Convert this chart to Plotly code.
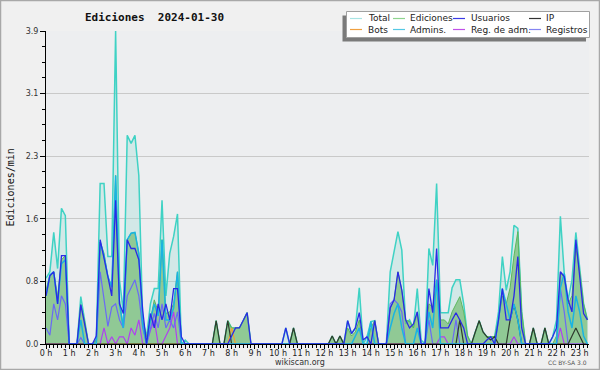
import plotly.graph_objects as go

# ---------------- data (edits per minute, 10-minute bins, 00:00 .. 23:20) ----------------
BIN_MINUTES = 10
TOTAL = [
    0.82, 0.90, 1.39, 0.94, 1.69, 1.60,   # 0h
    0, 0, 0, 0.59, 0.30, 0,               # 1h
    0, 0.05, 2.00, 2.00, 1.09, 1.09,      # 2h
    3.90, 0.80, 0.40, 2.60, 2.50, 2.60,   # 3h
    2.10, 0.30, 0.09, 0.50, 0.69, 0.69,   # 4h
    1.79, 0.60, 1.13, 1.34, 1.62, 0,      # 5h
    0.05, 0, 0, 0, 0, 0,                  # 6h
    0, 0, 0.29, 0, 0, 0.29,               # 7h
    0.20, 0.20, 0.20, 0.29, 0.39, 0,      # 8h
    0, 0, 0, 0, 0, 0,                     # 9h
    0, 0, 0.20, 0, 0.20, 0,               # 10h
    0, 0, 0, 0, 0, 0,                     # 11h
    0, 0, 0.10, 0, 0.10, 0,               # 12h
    0.29, 0.13, 0.20, 0.70, 0, 0.09,      # 13h
    0.28, 0.29, 0, 0, 0, 0.90,            # 14h
    1.17, 1.40, 1.17, 0.25, 0.30, 0.20,   # 15h
    0.69, 0.05, 0, 1.19, 0.98, 2.00,      # 16h
    0.39, 0.39, 0.39, 0.70, 0.80, 0.80,   # 17h
    0.50, 0.10, 0, 0.15, 0.29, 0.15,      # 18h
    0.09, 0.09, 0.09, 0.40, 1.09, 0.67,   # 19h
    0.90, 1.48, 1.44, 0.40, 0, 0,         # 20h
    0.20, 0, 0, 0.20, 0, 0.09,            # 21h
    0.30, 1.59, 0.88, 0.55, 0.80, 1.39,   # 22h
    0.90, 0.50, 0.30,                     # 23h
]
EDICIONES = [
    0.67, 0.86, 0.90, 0.59, 1.05, 1.10,
    0, 0, 0, 0.49, 0.28, 0,
    0, 0.05, 1.27, 1.13, 0.84, 0.71,
    2.10, 0.55, 0.20, 1.30, 1.38, 1.39,
    1.13, 0.30, 0.09, 0.30, 0.55, 0.40,
    1.30, 0.38, 0.40, 0.50, 0.90, 0,
    0, 0, 0, 0, 0, 0,
    0, 0, 0.29, 0, 0, 0.29,
    0.20, 0.20, 0.20, 0.29, 0.39, 0,
    0, 0, 0, 0, 0, 0,
    0, 0, 0, 0, 0.20, 0,
    0, 0, 0, 0, 0, 0,
    0, 0, 0.10, 0, 0.10, 0,
    0.20, 0.10, 0.15, 0.30, 0, 0,
    0.20, 0.29, 0, 0, 0, 0.45,
    0.55, 0.90, 0.67, 0.30, 0.28, 0.20,
    0.40, 0, 0, 0.50, 0.46, 0.80,
    0.30, 0.30, 0.25, 0.40, 0.50, 0.59,
    0.40, 0.10, 0, 0.15, 0.29, 0.15,
    0.09, 0.09, 0.09, 0.30, 0.60, 0.50,
    0.70, 1.10, 1.40, 0.40, 0, 0,
    0.20, 0, 0, 0.20, 0, 0,
    0.10, 0.88, 0.84, 0.50, 0.60, 1.20,
    0.90, 0.50, 0.30,
]
USUARIOS = [
    0.60, 0.85, 0.90, 0.50, 1.10, 1.10,
    0, 0, 0, 0.49, 0.25, 0,
    0, 0.10, 1.30, 1.09, 0.84, 0.60,
    1.79, 0.50, 0.38, 1.30, 1.19, 1.19,
    1.05, 0.42, 0, 0.38, 0.20, 0.50,
    0.30, 0.50, 0.30, 0.69, 0.69, 0.09,
    0, 0, 0, 0, 0, 0,
    0, 0, 0, 0, 0, 0,
    0.10, 0.20, 0.20, 0.29, 0.39, 0,
    0, 0, 0, 0, 0, 0,
    0, 0, 0.20, 0, 0, 0,
    0, 0, 0, 0, 0, 0,
    0, 0, 0, 0, 0, 0,
    0.29, 0.13, 0.20, 0.39, 0.05, 0.09,
    0, 0.29, 0, 0, 0, 0.45,
    0.55, 0.90, 0.67, 0.30, 0.20, 0.25,
    0.40, 0, 0, 0.69, 0.39, 1.19,
    0.20, 0.20, 0.20, 0.30, 0.39, 0.30,
    0.20, 0, 0, 0, 0, 0,
    0.05, 0.09, 0, 0.30, 0.69, 0.30,
    0.30, 0.60, 1.09, 0.20, 0, 0,
    0, 0, 0, 0, 0, 0.09,
    0.20, 0.90, 0.84, 0.55, 0.40, 1.30,
    0.80, 0.38, 0.30,
]
IP = [
    0, 0, 0, 0, 0, 0,
    0, 0, 0, 0, 0, 0,
    0, 0, 0, 0, 0, 0,
    0, 0, 0, 0, 0, 0,
    0, 0, 0, 0, 0, 0,
    0, 0, 0, 0, 0, 0,
    0, 0, 0, 0, 0, 0,
    0, 0, 0.29, 0, 0, 0.29,
    0, 0, 0, 0, 0, 0,
    0, 0, 0, 0, 0, 0,
    0, 0, 0, 0, 0.20, 0,
    0, 0, 0, 0, 0, 0,
    0, 0, 0.10, 0, 0.10, 0,
    0, 0, 0, 0, 0, 0,
    0, 0, 0, 0, 0, 0,
    0, 0, 0, 0, 0, 0,
    0, 0, 0, 0, 0, 0,
    0, 0, 0, 0, 0, 0.30,
    0, 0, 0, 0.15, 0.29, 0.15,
    0.09, 0.05, 0.09, 0, 0, 0,
    0.30, 0.49, 0.30, 0, 0, 0,
    0.20, 0, 0, 0.20, 0, 0,
    0, 0, 0, 0, 0.10, 0.20,
    0.10, 0, 0,
]
BOTS = [
    0, 0, 0, 0, 0, 0,
    0, 0, 0, 0, 0, 0,
    0, 0, 0, 0, 0, 0,
    0, 0, 0, 0, 0, 0,
    0, 0, 0, 0, 0, 0,
    0, 0, 0, 0, 0, 0,
    0, 0, 0, 0, 0, 0,
    0, 0, 0, 0, 0, 0,
    0.20, 0, 0, 0, 0, 0,
    0, 0, 0, 0, 0, 0,
    0, 0, 0, 0, 0, 0,
    0, 0, 0, 0, 0, 0,
    0, 0, 0, 0, 0, 0,
    0, 0, 0, 0, 0, 0,
    0, 0, 0, 0, 0, 0,
    0, 0, 0, 0, 0, 0,
    0, 0, 0, 0, 0, 0,
    0, 0, 0, 0, 0, 0,
    0, 0, 0, 0, 0, 0,
    0, 0, 0, 0, 0, 0,
    0, 0, 0, 0, 0, 0,
    0, 0, 0, 0, 0, 0,
    0, 0, 0, 0, 0, 0,
    0, 0, 0,
]
ADMINS = [
    0.60, 0.86, 0.90, 0.50, 1.00, 1.05,
    0, 0, 0, 0.30, 0, 0,
    0, 0, 1.27, 1.10, 0.84, 0.71,
    2.10, 0.50, 0.20, 1.30, 1.38, 1.39,
    1.13, 0.25, 0, 0.30, 0.50, 0.35,
    1.30, 0.30, 0.30, 0.45, 0.90, 0,
    0, 0, 0, 0, 0, 0,
    0, 0, 0, 0, 0, 0,
    0, 0, 0, 0, 0, 0,
    0, 0, 0, 0, 0, 0,
    0, 0, 0, 0, 0, 0,
    0, 0, 0, 0, 0, 0,
    0, 0, 0, 0, 0, 0,
    0, 0, 0.10, 0.20, 0, 0,
    0.28, 0, 0, 0, 0, 0.20,
    0.38, 0.50, 0.20, 0, 0, 0,
    0.20, 0, 0, 0.40, 0.20, 0.80,
    0, 0, 0, 0, 0, 0,
    0, 0, 0, 0, 0, 0,
    0, 0, 0, 0.30, 0.69, 0.50,
    0.30, 0.50, 0.30, 0, 0, 0,
    0, 0, 0, 0, 0, 0,
    0, 0.70, 0.88, 0.40, 0.20, 0.60,
    0.40, 0.10, 0,
]
REG_ADM = [
    0, 0, 0, 0, 0, 0,
    0, 0, 0, 0, 0, 0,
    0, 0, 0, 0.20, 0, 0.09,
    0, 0.09, 0.09, 0, 0.20, 0.11,
    0.30, 0, 0, 0.17, 0.30, 0,
    0, 0.10, 0.20, 0.40, 0, 0,
    0, 0, 0, 0, 0, 0,
    0, 0, 0, 0, 0, 0,
    0, 0, 0, 0, 0, 0,
    0, 0, 0, 0, 0, 0,
    0, 0, 0, 0, 0, 0,
    0, 0, 0, 0, 0, 0,
    0, 0, 0, 0, 0, 0,
    0, 0, 0, 0, 0, 0,
    0, 0, 0, 0, 0, 0,
    0, 0, 0, 0, 0, 0,
    0, 0, 0, 0, 0, 0,
    0.09, 0.09, 0, 0, 0, 0,
    0, 0, 0, 0, 0, 0,
    0, 0, 0, 0, 0, 0,
    0, 0.09, 0, 0, 0, 0,
    0, 0, 0, 0, 0, 0,
    0, 0.20, 0, 0, 0, 0,
    0, 0, 0,
]
REGISTROS = [
    0.20, 0.11, 0.50, 0.30, 0.60, 0.50,
    0, 0, 0, 0.08, 0, 0,
    0, 0, 0.90, 0.59, 0.22, 0.46,
    0.50, 0.30, 0.20, 0.60, 0.70, 0.80,
    0.60, 0.20, 0, 0.20, 0.38, 0.20,
    0.50, 0.20, 0.30, 0.20, 0.40, 0,
    0, 0, 0, 0, 0, 0,
    0, 0, 0, 0, 0, 0,
    0, 0, 0, 0, 0, 0,
    0, 0, 0, 0, 0, 0,
    0, 0, 0, 0, 0, 0,
    0, 0, 0, 0, 0, 0,
    0, 0, 0, 0, 0, 0,
    0, 0, 0, 0, 0, 0,
    0, 0, 0, 0, 0, 0.50,
    0.55, 0.50, 0.40, 0, 0, 0,
    0, 0, 0, 0.30, 0, 0,
    0, 0, 0, 0, 0.30, 0,
    0, 0, 0, 0, 0, 0,
    0, 0, 0, 0, 0, 0,
    0, 0, 0, 0, 0, 0,
    0, 0, 0, 0, 0, 0,
    0, 0.69, 0.40, 0, 0, 0,
    0, 0, 0,
]

HOUR_TICKS = list(range(24))
HOUR_LABELS = [f"{h} h" for h in HOUR_TICKS]
Y_TICKS = [0, 0.78, 1.56, 2.34, 3.12, 3.9]
Y_LABELS = ["0.0", "0.8", "1.6", "2.3", "3.1", "3.9"]

LEGEND_LABELS = [["Total", "Ediciones", "Usuarios", "IP"],
                 ["Bots", "Admins.", "Reg. de adm.", "Registros"]]
LEGEND_COLORS = [["#a8e4e4", "#8fd48f", "#3a3ae6", "#333333"],
                 ["#f0a040", "#55c8e4", "#c050e8", "#8585f2"]]

# ---------------- figure ----------------
hours = [i * BIN_MINUTES / 60 for i in range(len(TOTAL))]

fig = go.Figure()
fig.add_trace(go.Scatter(x=hours, y=TOTAL, mode="lines", fill="tozeroy",
                         fillcolor="rgba(140,220,210,0.28)",
                         line=dict(color="#3fd2c4", width=1.5)))
fig.add_trace(go.Scatter(x=hours, y=EDICIONES, mode="lines", fill="tozeroy",
                         fillcolor="rgba(118,188,118,0.72)",
                         line=dict(color="#5cb85c", width=1)))
line_series = [
    (BOTS, "#f0a030", 1.2),
    (REG_ADM, "#b040f0", 1.2),
    (REGISTROS, "#6a6af5", 1.2),
    (IP, "#2e3a2e", 1.2),
    (ADMINS, "#1ab4e2", 1.5),
    (USUARIOS, "#2a2ae6", 1.3),
]
for vals, col, w in line_series:
    fig.add_trace(go.Scatter(x=hours, y=vals, mode="lines",
                             line=dict(color=col, width=w)))

L, R, T, B = 46, 589, 31, 344
W, H = 600, 370


def px(x):
    return (x - L) / (R - L)


def py(y):
    return (B - y) / (B - T)


shapes = [
    # outer border
    dict(type="rect", xref="paper", yref="paper", x0=px(0.5), x1=px(W - 0.5),
         y0=py(H - 0.5), y1=py(0.5), line=dict(color="#a8a8a8", width=1.5),
         fillcolor="rgba(0,0,0,0)", layer="above"),
    # legend shadow
    dict(type="rect", xref="paper", yref="paper", x0=px(342.5), x1=px(586),
         y0=py(41.5), y1=py(15.5), line=dict(width=0), fillcolor="#7a7a7a",
         layer="above"),
    # legend box
    dict(type="rect", xref="paper", yref="paper", x0=px(346.5), x1=px(589.5),
         y0=py(37.5), y1=py(11.5), line=dict(color="#a0a0a0", width=1),
         fillcolor="#ffffff", layer="above"),
]
annotations = []
col_line_x = [(350, 362), (393, 405), (453, 465), (529, 541)]
col_text_x = [366, 408, 469, 544]
row_y = [18.5, 29.5]
for r, (labels, colors) in enumerate(zip(LEGEND_LABELS, LEGEND_COLORS)):
    for c, (lab, colr) in enumerate(zip(labels, colors)):
        x0, x1 = col_line_x[c]
        shapes.append(dict(type="line", xref="paper", yref="paper",
                           x0=px(x0), x1=px(x1), y0=py(row_y[r]), y1=py(row_y[r]),
                           line=dict(color=colr, width=1.2), layer="above"))
        annotations.append(dict(xref="paper", yref="paper", x=px(col_text_x[c]),
                                y=py(row_y[r]), text=lab, showarrow=False,
                                xanchor="left", yanchor="middle",
                                font=dict(family="DejaVu Sans", size=9, color="#222")))

annotations += [
    dict(xref="paper", yref="paper", x=px(154), y=py(17),
         text="<b>Ediciones\u00a0 2024-01-30</b>", showarrow=False,
         xanchor="center", yanchor="middle",
         font=dict(family="DejaVu Sans Mono", size=11, color="#111")),
    dict(xref="paper", yref="paper", x=px(10), y=0.5, text="Ediciones/min",
         textangle=-90, showarrow=False, xanchor="center", yanchor="middle",
         font=dict(family="DejaVu Sans Mono", size=10, color="#111")),
    dict(xref="paper", yref="paper", x=px(300), y=py(362), text="wikiscan.org",
         showarrow=False, xanchor="center", yanchor="middle",
         font=dict(family="DejaVu Sans", size=8, color="#333")),
    dict(xref="paper", yref="paper", x=px(589), y=py(362.5), text="CC BY-SA 3.0",
         showarrow=False, xanchor="right", yanchor="middle",
         font=dict(family="DejaVu Sans", size=6, color="#555")),
]

fig.update_layout(
    width=W, height=H,
    margin=dict(l=L, r=W - R, t=T, b=H - B, pad=0),
    paper_bgcolor="#f0f0f0", plot_bgcolor="#edeef0",
    showlegend=False, hovermode=False,
    shapes=shapes, annotations=annotations,
)
fig.update_xaxes(
    range=[0, 23.4], tickmode="array", tickvals=HOUR_TICKS, ticktext=HOUR_LABELS,
    ticks="outside", ticklen=4, tickcolor="#000", tickwidth=1,
    showline=True, linecolor="#000", linewidth=1, showgrid=False, zeroline=False,
    tickfont=dict(family="DejaVu Sans", size=8, color="#222"),
    ticklabelstandoff=-3,
    minor=dict(tickvals=[i * BIN_MINUTES / 60 for i in range(141)], ticks="outside",
               ticklen=3, tickcolor="#000", showgrid=False),
)
fig.update_yaxes(
    range=[0, 3.9], tickmode="array", tickvals=Y_TICKS, ticktext=Y_LABELS,
    ticks="outside", ticklen=5, tickcolor="#000", tickwidth=1,
    showline=True, linecolor="#000", linewidth=1, zeroline=False,
    showgrid=True, gridcolor="#c9c9c9", gridwidth=1,
    tickfont=dict(family="DejaVu Sans", size=8, color="#333"),
    minor=dict(tickvals=[k * 0.195 for k in range(21)], ticks="outside",
               ticklen=3, tickcolor="#000", showgrid=False),
)

fig.write_html("out.html", config={"displayModeBar": False, "staticPlot": True})
with open("out.html", encoding="utf-8") as f:
    page = f.read()
page = page.replace("<body>", '<body style="margin:0;padding:0;overflow:hidden">', 1)
with open("out.html", "w", encoding="utf-8") as f:
    f.write(page)
